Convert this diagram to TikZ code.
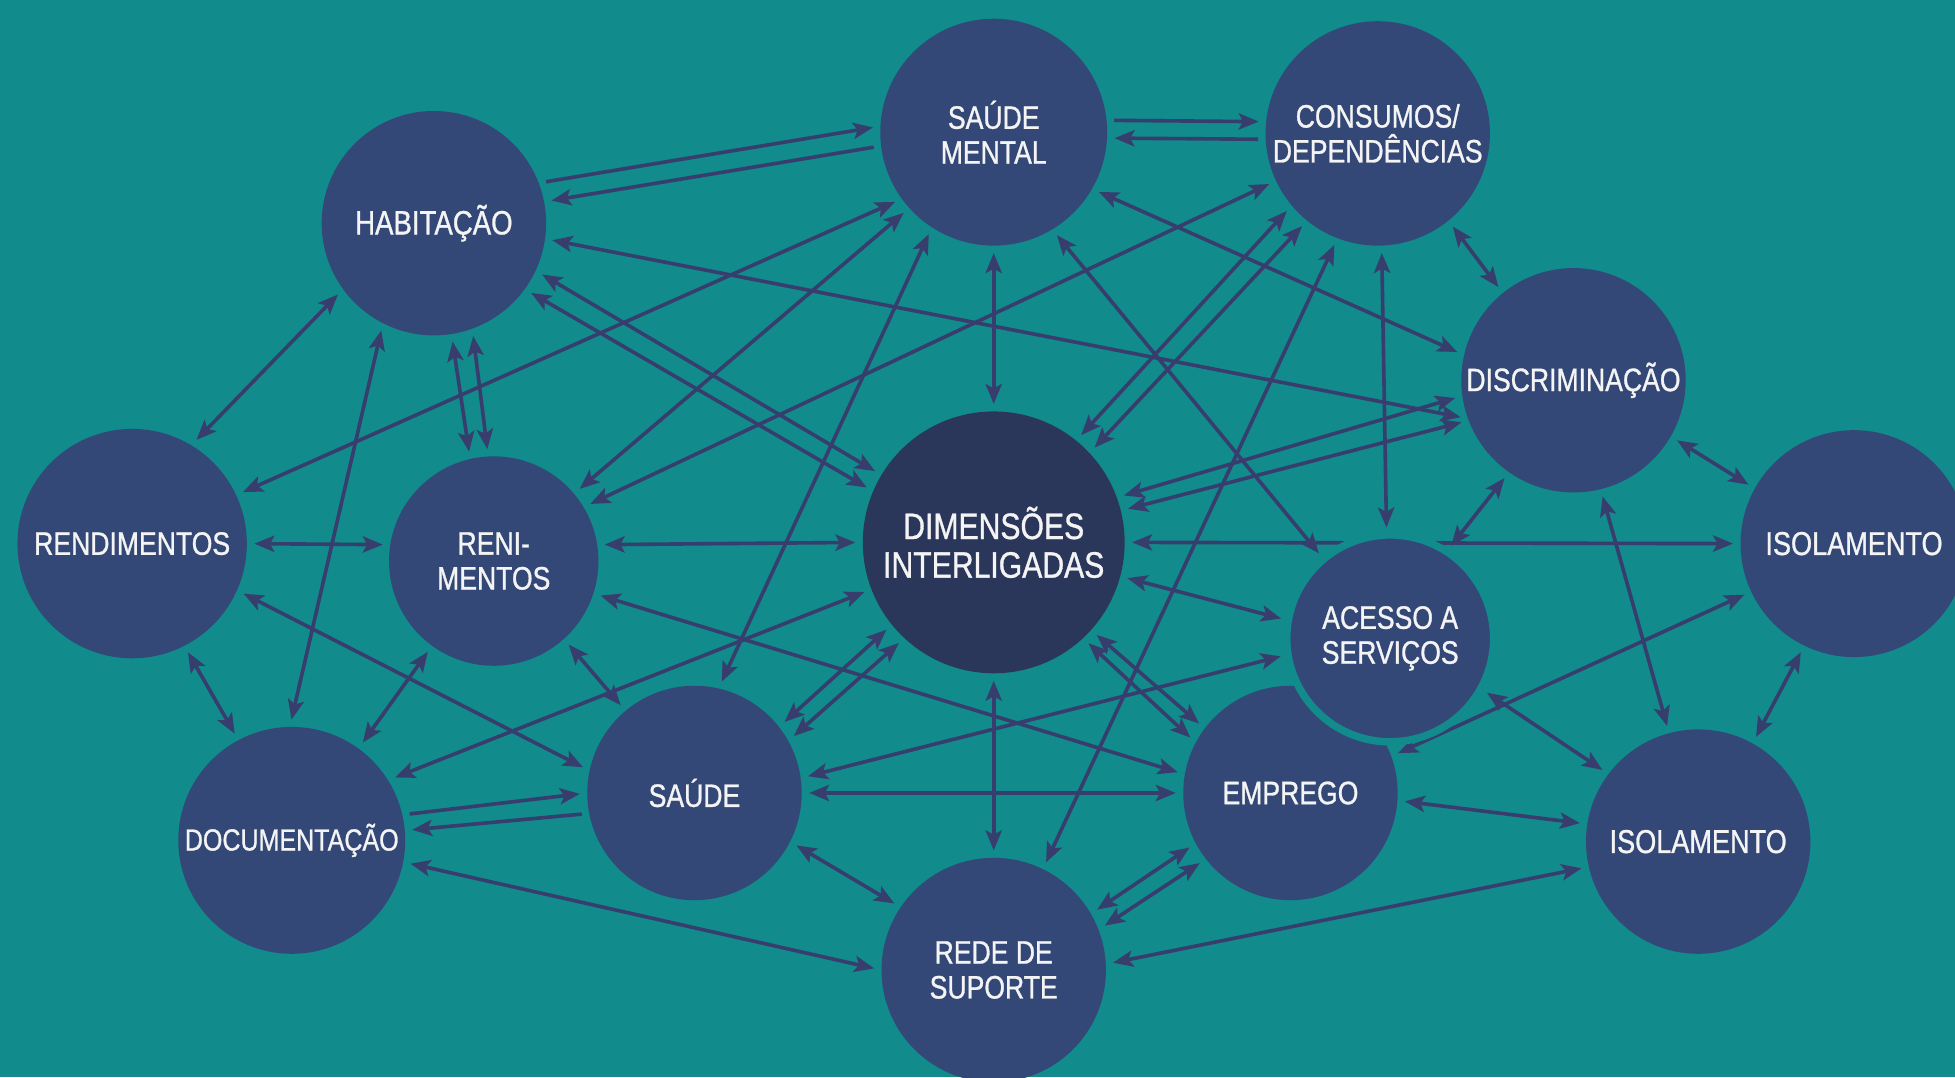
\documentclass[tikz,border=0pt]{standalone}
\usepackage{fontspec}
\setmainfont{Liberation Sans}[FakeStretch=0.82,FakeBold=0.9]
\usetikzlibrary{arrows.meta}
\pgfdeclarelayer{back}
\pgfdeclarelayer{edges}
\pgfsetlayers{back,edges,main}
\definecolor{bgteal}{RGB}{17,139,139}
\definecolor{nodeblue}{RGB}{52,72,120}
\definecolor{dimblue}{RGB}{42,55,90}
\definecolor{arrowblue}{RGB}{55,62,110}
\definecolor{txtwhite}{RGB}{244,244,244}
\begin{document}
\begin{tikzpicture}[x=1pt,y=-1pt,
 nd/.style={circle,fill=nodeblue,inner sep=0pt,outer sep=0pt},
 lbl/.style={text=txtwhite,align=center,inner sep=0pt,font=\fontsize{26}{28}\selectfont},
 ed/.style={draw=arrowblue,line width=2.9pt,shorten >=6pt,shorten <=6pt},
 dbl/.style={ed,{Stealth[length=16pt,width=13pt,inset=3.5pt]}-{Stealth[length=16pt,width=13pt,inset=3.5pt]}},
 sgl/.style={ed,-{Stealth[length=16pt,width=13pt,inset=3.5pt]}}]
\begin{pgfonlayer}{back}
\fill[bgteal] (0,0) rectangle (1568,864);
\end{pgfonlayer}
\useasboundingbox (0,0) rectangle (1568,864);

% circles
\node[nd,minimum size=182] (sm)   at (797,106) {};
\node[nd,minimum size=180] (cd)   at (1105,107) {};
\node[nd,minimum size=180] (hab)  at (348,179) {};
\node[nd,minimum size=180] (dis)  at (1262,305) {};
\node[nd,minimum size=184] (ren)  at (106,436) {};
\node[nd,minimum size=168] (reni) at (396,450) {};
\node[nd,minimum size=210,fill=dimblue] (dim) at (797,435) {};
\node[nd,minimum size=182] (isoa) at (1487,436) {};
\node[nd,minimum size=172] (sau)  at (557,636) {};
\node[nd,minimum size=172] (emp)  at (1035,636) {};
\node[nd,minimum size=166,draw=bgteal,line width=6pt] (acc) at (1115,512) {};
\node[nd,minimum size=182] (doc)  at (234,674) {};
\node[nd,minimum size=180] (isob) at (1362,675) {};
\node[nd,minimum size=180] (rs)   at (797,778) {};

% labels
\node[lbl] (t-sm)   at (sm)   {SAÚDE\\MENTAL};
\node[lbl] (t-cd)   at (cd)   {CONSUMOS/\\DEPENDÊNCIAS};
\node[lbl,font=\fontsize{27}{29}\selectfont] (t-hab) at (hab) {HABITAÇÃO};
\node[lbl] (t-dis)  at (dis)  {DISCRIMINAÇÃO};
\node[lbl] (t-ren)  at (ren)  {RENDIMENTOS};
\node[lbl] (t-reni) at (reni) {RENI-\\MENTOS};
\node[lbl,font=\fontsize{29.5}{31}\selectfont] (t-dim) at (dim) {DIMENSÕES\\INTERLIGADAS};
\node[lbl,font=\fontsize{26.5}{28}\selectfont] (t-isoa) at (isoa) {ISOLAMENTO};
\node[lbl] (t-acc)  at (acc)  {ACESSO A\\SERVIÇOS};
\node[lbl] (t-sau)  at (sau)  {SAÚDE};
\node[lbl] (t-emp)  at (emp)  {EMPREGO};
\node[lbl,font=\fontsize{24.5}{27}\selectfont] (t-doc) at (doc) {DOCUMENTAÇÃO};
\node[lbl,font=\fontsize{26.5}{28}\selectfont] (t-isob) at (isob) {ISOLAMENTO};
\node[lbl] (t-rs)   at (rs)   {REDE DE\\SUPORTE};

\begin{pgfonlayer}{edges}
\draw[sgl] (hab.21) -- (sm.177);
\draw[sgl] (sm.187) -- (hab.11);
\draw[sgl] (sm.6) -- (cd.174);
\draw[sgl] (cd.183) -- (sm.-3);
\draw[dbl] (hab.216) -- (ren.59);
\draw[dbl] (hab.243) -- (doc.91);
\draw[dbl] (hab.279) -- (reni.103);
\draw[dbl] (hab.290) -- (reni.93);
\draw[dbl] (hab.352) -- (dis.200);
\draw[dbl] (hab.335) -- (dim.149);
\draw[dbl] (hab.324) -- (dim.157);
\draw[dbl] (sm.270) -- (dim.90);
\draw[dbl] (sm.301) -- (acc.130);
\draw[dbl] (sm.330) -- (dis.167);
\draw[dbl] (sm.216) -- (ren.25);
\draw[dbl] (sm.222) -- (reni.40);
\draw[dbl] (sm.237) -- (sau.77);
\draw[dbl] (cd.205) -- (reni.31);
\draw[dbl] (cd.220) -- (dim.51);
\draw[dbl] (cd.231) -- (dim.43);
\draw[dbl] (cd.249) -- (rs.64);
\draw[dbl] (cd.272) -- (acc.92);
\draw[dbl] (cd.309) -- (dis.129);
\draw[dbl] (dis.330) -- (isoa.151);
\draw[dbl] (dis.235) -- (acc.57);
\draw[dbl] (dis.284) -- (isob.105);
\draw[dbl] (isoa.244) -- (isob.61);
\draw[dbl] (dim.0) -- (isoa.180);
\draw[dbl] (dim.20) -- (dis.188);
\draw[dbl] (dim.14) -- (dis.201);
\draw[dbl] (dim.345) -- (acc.170);
\draw[dbl] (dim.318) -- (emp.143);
\draw[dbl] (dim.313) -- (emp.152);
\draw[dbl] (dim.270) -- (rs.90);
\draw[dbl] (dim.219) -- (sau.38);
\draw[dbl] (dim.227) -- (sau.29);
\draw[dbl] (dim.180) -- (reni.9);
\draw[dbl] (dim.201) -- (doc.32);
\draw[dbl] (ren.0) -- (reni.171);
\draw[dbl] (ren.297) -- (doc.118);
\draw[dbl] (ren.336) -- (sau.168);
\draw[dbl] (reni.234) -- (doc.54);
\draw[dbl] (reni.312) -- (sau.130);
\draw[dbl] (reni.342) -- (emp.170);
\draw[dbl] (sau.8) -- (acc.189);
\draw[dbl] (sau.0) -- (emp.180);
\draw[sgl] (doc.13) -- (sau.180);
\draw[sgl] (sau.191) -- (doc.5);
\draw[dbl] (sau.333) -- (rs.146);
\draw[dbl] (doc.349) -- (rs.180);
\draw[dbl] (emp.208) -- (rs.30);
\draw[dbl] (emp.218) -- (rs.21);
\draw[dbl] (emp.356) -- (isob.171);
\draw[dbl] (rs.3) -- (isob.193);
\draw[dbl] (acc.331) -- (isob.143);
\draw[dbl] (emp.20) -- (isoa.205);
\end{pgfonlayer}
\end{tikzpicture}
\end{document}
